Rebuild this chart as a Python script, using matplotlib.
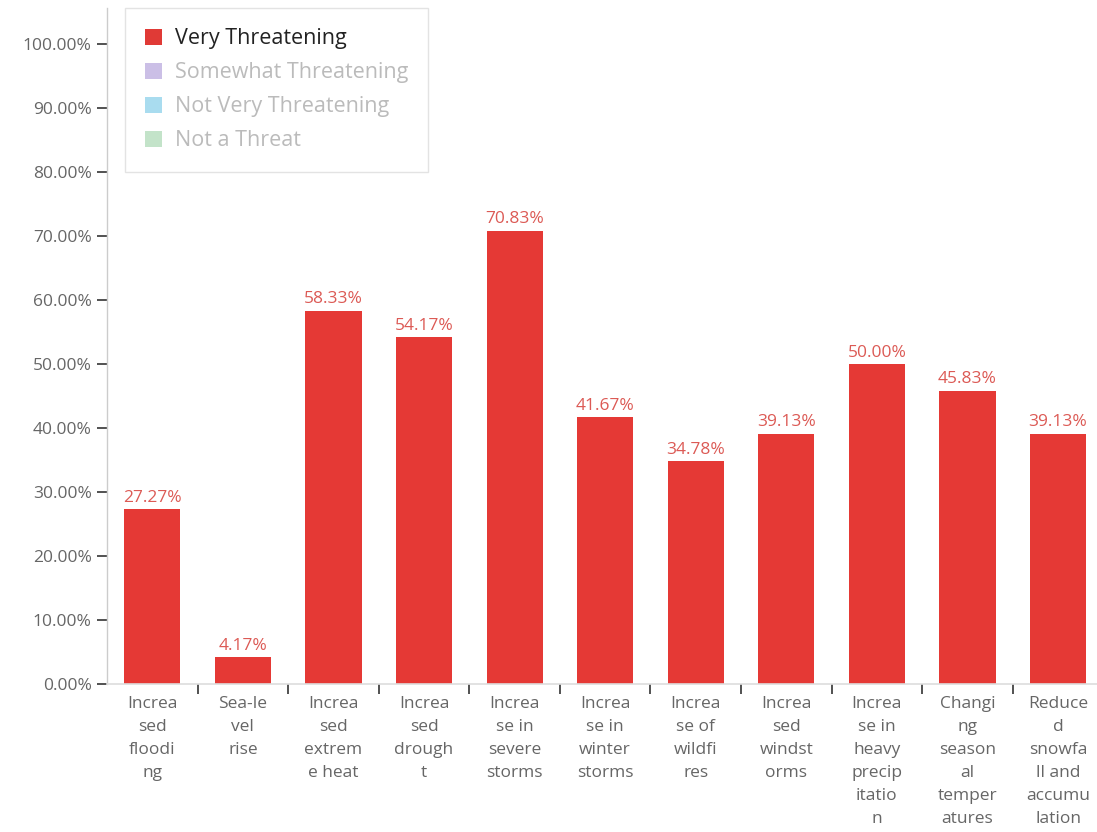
import matplotlib
matplotlib.use("Agg")
import matplotlib.pyplot as plt
from matplotlib.patches import Patch

categories = [
    "Increa\nsed\nfloodi\nng",
    "Sea-le\nvel\nrise",
    "Increa\nsed\nextrem\ne heat",
    "Increa\nsed\ndrough\nt",
    "Increa\nse in\nsevere\nstorms",
    "Increa\nse in\nwinter\nstorms",
    "Increa\nse of\nwildfi\nres",
    "Increa\nsed\nwindst\norms",
    "Increa\nse in\nheavy\nprecip\nitatio\nn",
    "Changi\nng\nseason\nal\ntemper\natures",
    "Reduce\nd\nsnowfa\nll and\naccumu\nlation",
]
very_threatening = [27.27, 4.17, 58.33, 54.17, 70.83, 41.67, 34.78, 39.13, 50.00, 45.83, 39.13]
legend_labels = ["Very Threatening", "Somewhat Threatening", "Not Very Threatening", "Not a Threat"]
legend_colors = ["#e03a36", "#cbbfe6", "#a9dcef", "#c3e3c9"]
yticks = [0, 10, 20, 30, 40, 50, 60, 70, 80, 90, 100]

plt.rcParams['font.family'] = ['Open Sans', 'DejaVu Sans']

W, H = 1097, 832
fig = plt.figure(figsize=(W / 100, H / 100), dpi=100)
left, right, bottom, top = 107, 1097, 684, 8
ax = fig.add_axes([left / W, (H - bottom) / H, (right - left) / W, (bottom - top) / H])

bar_color = "#e53935"
x = list(range(len(categories)))
ax.bar(x, very_threatening, width=0.62, color=bar_color, zorder=2)
for xi, v in zip(x, very_threatening):
    ax.text(xi, v + 0.5, f"{v:.2f}%", ha="center", va="bottom", fontsize=12.5, color="#dc5a55")

ax.set_xlim(-0.5, 10.43)
ax.set_ylim(0, 105.6)
ax.set_yticks(yticks)
ax.set_yticklabels([f"{t:.2f}%" for t in yticks], fontsize=12.5, color="#666666")
ax.tick_params(axis="y", direction="out", length=7, width=1.2, color="#333333", pad=4)

# category labels
ax.set_xticks(x)
ax.set_xticklabels(categories, fontsize=12.5, color="#666666", linespacing=1.58)
ax.tick_params(axis="x", which="major", length=0, pad=9)
ax.set_xticks([i + 0.5 for i in range(len(categories) - 1)], minor=True)
ax.tick_params(axis="x", which="minor", direction="out", length=7, width=1.2, color="#333333")

for s in ["top", "right"]:
    ax.spines[s].set_visible(False)
ax.spines["left"].set_color("#cccccc")
ax.spines["bottom"].set_color("#dddddd")
ax.spines["left"].set_linewidth(1)
ax.spines["bottom"].set_linewidth(1.2)

handles = [Patch(facecolor=c, edgecolor="none") for c in legend_colors]
leg = ax.legend(handles, legend_labels, loc="upper left", bbox_to_anchor=(18 / (right - left), 1.0),
                frameon=True, fontsize=15.5, handlelength=0.75, handleheight=0.75, handletextpad=0.6,
                labelspacing=0.6, borderpad=0.95, fancybox=False, borderaxespad=0)
leg.get_frame().set_edgecolor("#dddddd")
leg.get_frame().set_linewidth(1)
for i, t in enumerate(leg.get_texts()):
    t.set_color("#222222" if i == 0 else "#bbbbbb")

fig.savefig("out.png", dpi=100)
